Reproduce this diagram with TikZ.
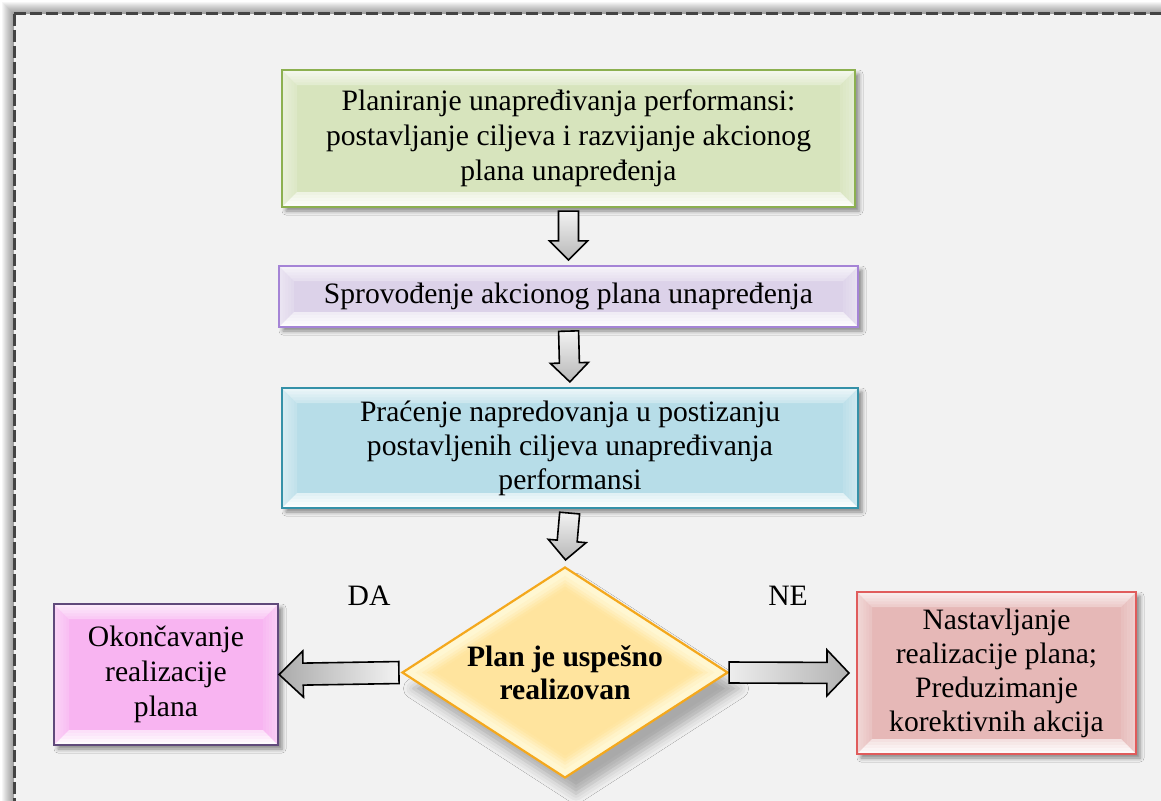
\documentclass[tikz,border=0pt]{standalone}
\usepackage{fontspec}
\setmainfont{Liberation Serif}
\usetikzlibrary{calc,shapes.geometric,shadows.blur}

\definecolor{panel}{HTML}{F2F2F2}
\definecolor{framegray}{HTML}{444444}
\definecolor{greenfill}{HTML}{D7E4BD}
\definecolor{greenline}{HTML}{8CB050}
\definecolor{lilacfill}{HTML}{DCD2E9}
\definecolor{lilacline}{HTML}{A584D6}
\definecolor{tealfill}{HTML}{B7DDE8}
\definecolor{tealline}{HTML}{3591A8}
\definecolor{pinkfill}{HTML}{F8B4F1}
\definecolor{pinkline}{HTML}{604A7B}
\definecolor{rosefill}{HTML}{E6B8B7}
\definecolor{roseline}{HTML}{E05C5C}
\definecolor{dcream}{HTML}{FFF7D2}
\definecolor{dgold}{HTML}{FFE49E}
\definecolor{dline}{HTML}{F4A81D}

% block arrow between two points:
% #1 style, #2 start, #3 end, #4 tail gap, #5 tip gap, #6 half shaft, #7 half head, #8 head length
\newcommand{\blockarrow}[8]{%
  \coordinate (ba-t) at ($(#2)!#4!(#3)$);
  \coordinate (ba-p) at ($(#3)!#5!(#2)$);
  \coordinate (ba-h) at ($(ba-p)!#8!(ba-t)$);
  \draw[#1] ($(ba-t)!#6!90:(ba-p)$) -- ($(ba-h)!#6!90:(ba-p)$)
    -- ($(ba-h)!#7!90:(ba-p)$) -- (ba-p) -- ($(ba-h)!#7!-90:(ba-p)$)
    -- ($(ba-h)!#6!-90:(ba-p)$) -- ($(ba-t)!#6!-90:(ba-p)$) -- cycle;
}

% shorthands for the corners of a node inside its path picture
\newcommand{\pNW}{path picture bounding box.north west}
\newcommand{\pNE}{path picture bounding box.north east}
\newcommand{\pSW}{path picture bounding box.south west}
\newcommand{\pSE}{path picture bounding box.south east}

\tikzset{
  txt/.style={font=\fontsize{29.6}{35}\selectfont, align=center, text=black},
  bevelbox/.style 2 args={rectangle, draw=#2, line width=2.2pt, fill=#1,
    inner sep=0pt, txt,
    blur shadow={shadow xshift=4pt, shadow yshift=-4pt,
      shadow blur radius=4pt, shadow opacity=45},
    path picture={
      % bevel bands, built from thin strips that fade towards the face
      \foreach \a in {0,3,...,12}{
        \pgfmathsetmacro{\b}{\a+3}
        \pgfmathsetmacro{\ot}{0.72-\a*0.035}
        \pgfmathsetmacro{\ob}{0.95-\a*0.03}
        \pgfmathsetmacro{\ol}{0.42-\a*0.022}
        \pgfmathsetmacro{\orr}{0.32-\a*0.018}
        \fill[white,opacity=\ot]
          ([xshift=\a pt,yshift=-\a pt]\pNW) -- ([xshift=-\a pt,yshift=-\a pt]\pNE)
          -- ([xshift=-\b pt,yshift=-\b pt]\pNE) -- ([xshift=\b pt,yshift=-\b pt]\pNW) -- cycle;
        \fill[white,opacity=\ob]
          ([xshift=\a pt,yshift=\a pt]\pSW) -- ([xshift=-\a pt,yshift=\a pt]\pSE)
          -- ([xshift=-\b pt,yshift=\b pt]\pSE) -- ([xshift=\b pt,yshift=\b pt]\pSW) -- cycle;
        \fill[white,opacity=\ol]
          ([xshift=\a pt,yshift=-\a pt]\pNW) -- ([xshift=\a pt,yshift=\a pt]\pSW)
          -- ([xshift=\b pt,yshift=\b pt]\pSW) -- ([xshift=\b pt,yshift=-\b pt]\pNW) -- cycle;
        \fill[white,opacity=\orr]
          ([xshift=-\a pt,yshift=-\a pt]\pNE) -- ([xshift=-\a pt,yshift=\a pt]\pSE)
          -- ([xshift=-\b pt,yshift=\b pt]\pSE) -- ([xshift=-\b pt,yshift=-\b pt]\pNE) -- cycle;
      }
    }},
  decision/.style={diamond, aspect=1.545, minimum width=326pt, minimum height=211pt,
    inner sep=0pt, draw=dline, line width=2.2pt, fill=dcream,
    font=\bfseries\fontsize{29.6}{33}\selectfont, align=center,
    blur shadow={shadow xshift=11pt, shadow yshift=-16pt,
      shadow blur radius=10pt, shadow opacity=30},
    path picture={
      \foreach \s/\m in {0.92/20,0.88/45,0.85/70,0.82/90,0.79/100}{
        \fill[dgold!\m!dcream]
          ($(path picture bounding box.center)!\s!(path picture bounding box.west)$)
          -- ($(path picture bounding box.center)!\s!(path picture bounding box.north)$)
          -- ($(path picture bounding box.center)!\s!(path picture bounding box.east)$)
          -- ($(path picture bounding box.center)!\s!(path picture bounding box.south)$)
          -- cycle;
      }
    }},
  arrowbase/.style={draw=black, line width=1.6pt, line join=miter},
  downarrow/.style={arrowbase, top color=white!95!black, bottom color=black!28},
  leftarrow/.style={arrowbase, left color=black!33, right color=white!95!black},
  rightarrow/.style={arrowbase, left color=white!93!black, right color=black!30},
}

\begin{document}
\begin{tikzpicture}[x=1pt,y=-1pt]
\useasboundingbox (0,0) rectangle (1161,800);
\clip (0,0) rectangle (1161,800);

% page and the framed panel with its soft shadow
\fill[white] (0,0) rectangle (1161,800);
\foreach \w in {2,4,...,24}
  \draw[black, opacity=0.035, line width=\w pt] (14,14) rectangle (1185,825);
\fill[panel] (14,14) rectangle (1185,825);
\draw[framegray, line width=3pt, dash pattern=on 12pt off 4pt] (14,14) rectangle (1185,825);

% process steps
\node[bevelbox={greenfill}{greenline}, minimum width=573pt, minimum height=137pt]
  (plan) at (568.5,138.5)
  {Planiranje unapređivanja performansi:\\ postavljanje ciljeva i razvijanje akcionog\\ plana unapređenja};
\node[bevelbox={lilacfill}{lilacline}, minimum width=579pt, minimum height=61pt]
  (sprov) at (568.5,296.5)
  {Sprovođenje akcionog plana unapređenja};
\node[bevelbox={tealfill}{tealline}, minimum width=576pt, minimum height=120pt,
  font=\fontsize{29.6}{34}\selectfont]
  (pracenje) at (570,448)
  {Praćenje napredovanja u postizanju\\ postavljenih ciljeva unapređivanja\\ performansi};

% decision
\node[decision] (odluka) at (565,672.5) {Plan je uspešno\\ realizovan};

% outcomes
\node[bevelbox={pinkfill}{pinkline}, minimum width=224pt, minimum height=141pt]
  (kraj) at (166,674.5)
  {Okončavanje\\ realizacije\\ plana};
\node[bevelbox={rosefill}{roseline}, minimum width=279pt, minimum height=162pt,
  font=\fontsize{29.6}{34}\selectfont]
  (nastavak) at (996.5,673)
  {Nastavljanje\\ realizacije plana;\\ Preduzimanje\\ korektivnih akcija};

% branch labels
\node[txt] (da) at (369,596) {DA};
\node[txt] (ne) at (788,596) {NE};

% connectors
\blockarrow{downarrow}{plan.south}{sprov.north}{3pt}{5pt}{10pt}{19pt}{19pt}
\blockarrow{downarrow}{sprov.south}{pracenje.north}{3pt}{5pt}{10pt}{19pt}{19pt}
\blockarrow{downarrow}{pracenje.south}{odluka.north}{4pt}{6pt}{10pt}{19pt}{19pt}
\blockarrow{leftarrow}{odluka.west}{kraj.east}{2pt}{0pt}{11pt}{23pt}{24pt}
\blockarrow{rightarrow}{odluka.east}{nastavak.west}{0pt}{7pt}{10.5pt}{23pt}{22pt}
\end{tikzpicture}
\end{document}
